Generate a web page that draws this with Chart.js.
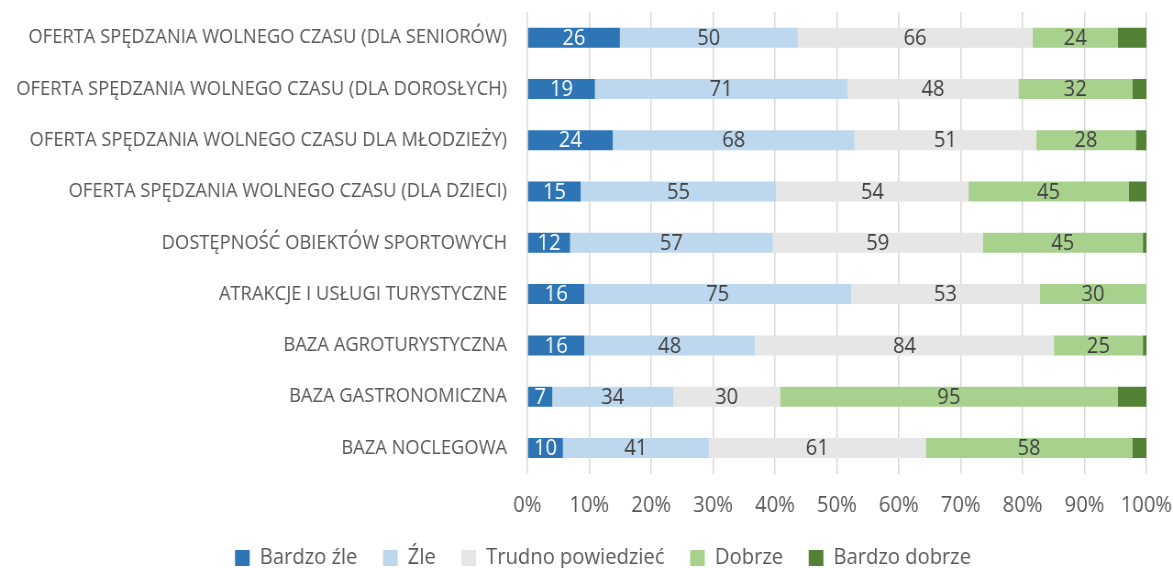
<!DOCTYPE html>
<html>
<head>
<meta charset="utf-8">
<script src="https://cdn.jsdelivr.net/npm/chart.js@4"></script>
<style>
  html, body { margin: 0; padding: 0; background: #ffffff; overflow: hidden; }
  #wrap { width: 1279px; height: 568px; transform: scaleX(0.91712); transform-origin: 0 0; }
  canvas { display: block; }
</style>
</head>
<body>
<div id="wrap"><canvas id="c" width="1279" height="568"></canvas></div>
<script>
const categories = [
  'OFERTA SPĘDZANIA WOLNEGO CZASU (DLA SENIORÓW)',
  'OFERTA SPĘDZANIA WOLNEGO CZASU (DLA DOROSŁYCH)',
  'OFERTA SPĘDZANIA WOLNEGO CZASU DLA MŁODZIEŻY)',
  'OFERTA SPĘDZANIA WOLNEGO CZASU (DLA DZIECI)',
  'DOSTĘPNOŚĆ OBIEKTÓW SPORTOWYCH',
  'ATRAKCJE I USŁUGI TURYSTYCZNE',
  'BAZA AGROTURYSTYCZNA',
  'BAZA GASTRONOMICZNA',
  'BAZA NOCLEGOWA'
];
const seriesNames = ['Bardzo źle', 'Źle', 'Trudno powiedzieć', 'Dobrze', 'Bardzo dobrze'];
const bardzoZle    = [26, 19, 24, 15, 12, 16, 16, 7, 10];
const zle          = [50, 71, 68, 55, 57, 75, 48, 34, 41];
const trudno       = [66, 48, 51, 54, 59, 53, 84, 30, 61];
const dobrze       = [24, 32, 28, 45, 45, 30, 25, 95, 58];
const bardzoDobrze = [8, 4, 3, 5, 1, 0, 1, 8, 4];
const tickLabels = ['0%', '10%', '20%', '30%', '40%', '50%', '60%', '70%', '80%', '90%', '100%'];

const colors = ['#2E75B6', '#BDD7EE', '#E7E6E6', '#A9D18E', '#548235'];
const labelColors = ['#FFFFFF', '#404040', '#404040', '#404040', null];
const FONT = "'Open Sans', 'Noto Sans', sans-serif";

const raw = [bardzoZle, zle, trudno, dobrze, bardzoDobrze];
const totals = categories.map((_, i) => raw.reduce((s, arr) => s + arr[i], 0));

const datasets = raw.map((arr, k) => ({
  label: seriesNames[k],
  data: arr.map((v, i) => v / totals[i] * 100),
  rawValues: arr,
  backgroundColor: colors[k],
  borderWidth: 0,
  barPercentage: 0.39,
  categoryPercentage: 1.0
}));

const valueLabels = {
  id: 'valueLabels',
  afterDatasetsDraw(chart) {
    const ctx = chart.ctx;
    ctx.save();
    ctx.font = '22px ' + FONT;
    ctx.textAlign = 'center';
    ctx.textBaseline = 'middle';
    chart.data.datasets.forEach((ds, k) => {
      if (!labelColors[k]) return;
      const meta = chart.getDatasetMeta(k);
      meta.data.forEach((el, i) => {
        const v = ds.rawValues[i];
        if (!v) return;
        ctx.fillStyle = labelColors[k];
        ctx.fillText(String(v), (el.x + el.base) / 2, el.y + 1);
      });
    });
    ctx.restore();
  }
};

const legendShift = {
  id: 'legendShift',
  afterLayout(chart) {
    const lg = chart.legend;
    if (!lg) return;
    lg.left += 30;
    lg.right += 30;
  }
};

new Chart(document.getElementById('c'), {
  type: 'bar',
  data: { labels: categories, datasets },
  plugins: [valueLabels, legendShift],
  options: {
    indexAxis: 'y',
    responsive: false,
    animation: false,
    devicePixelRatio: 1,
    layout: { padding: { left: 5, right: 29, top: 12, bottom: -11 } },
    plugins: {
      legend: {
        position: 'bottom',
        labels: {
          font: { family: FONT, size: 22 },
          color: '#595959',
          boxWidth: 16,
          boxHeight: 16,
          padding: 28
        }
      },
      tooltip: { enabled: false }
    },
    scales: {
      x: {
        stacked: true,
        min: 0,
        max: 100,
        grid: { color: '#D9D9D9', lineWidth: 1.5, drawTicks: true, tickLength: 19, tickColor: 'rgba(0,0,0,0)' },
        border: { display: false },
        ticks: {
          stepSize: 10,
          padding: 0,
          color: '#595959',
          font: { family: FONT, size: 22 },
          maxRotation: 0,
          callback: (v, i) => tickLabels[i]
        }
      },
      y: {
        stacked: true,
        grid: { display: false, drawTicks: true, tickLength: 22 },
        border: { display: false },
        ticks: {
          padding: 0,
          color: '#595959',
          font: { family: FONT, size: 20 },
          autoSkip: false
        },
        afterFit(scale) { scale.width = 570; }
      }
    }
  }
});
</script>
</body>
</html>
